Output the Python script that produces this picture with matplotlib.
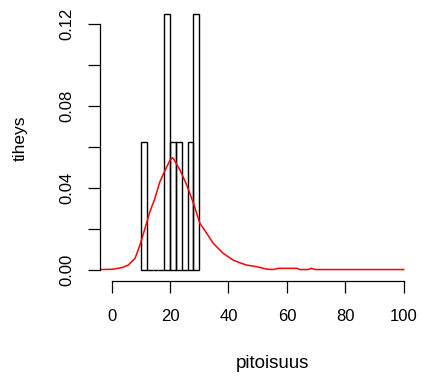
import numpy as np
import matplotlib
matplotlib.use("Agg")
import matplotlib.pyplot as plt

plt.rcParams['font.family'] = ['Liberation Sans', 'DejaVu Sans']

# histogram (density scale), bin width 2
bin_left = [10, 12, 14, 16, 18, 20, 22, 24, 26, 28]
bin_height = [0.0625, 0, 0, 0, 0.125, 0.0625, 0.0625, 0, 0.0625, 0.125]

# density estimate
dens_x = [-4, 0, 3.4, 5.7, 8.0, 9.7, 11.4, 13.1, 14.8, 16.5, 18.3, 20.0, 20.8,
          21.1, 23.4, 25.7, 28.0, 30.2, 32.5, 34.8, 38.2, 41.6, 43.9, 46.2,
          49.6, 53.1, 55.3, 57.1, 63.4, 64.5, 67.3, 68.4, 69.6, 100]
dens_y = [0, 0.0001, 0.0009, 0.0022, 0.0055, 0.012, 0.0201, 0.0283, 0.0348,
          0.0429, 0.0486, 0.0535, 0.0546, 0.0543, 0.0486, 0.0413, 0.0324,
          0.0226, 0.0178, 0.0128, 0.0079, 0.0046, 0.0033, 0.0022, 0.0014,
          0.0002, 0, 0.0006, 0.0006, 0, 0, 0.0006, 0, 0]

xticks = [0, 20, 40, 60, 80, 100]
yticks = [0.00, 0.02, 0.04, 0.06, 0.08, 0.10, 0.12]
ylabels = ["0.00", "", "0.04", "", "0.08", "", "0.12"]

W, H = 424, 377
fig = plt.figure(figsize=(W / 100, H / 100), dpi=100)
ax = fig.add_axes([100 / W, (H - 281) / H, 315.4 / W, (281 - 3.5) / H])

ax.bar(bin_left, bin_height, width=2, align='edge', fill=False,
       edgecolor='black', linewidth=1.0)
ax.plot(dens_x, dens_y, color='red', linewidth=1.1)

ax.set_xlim(-4, 104)
ax.set_ylim(-0.0056, 0.13)
for s in ['top', 'right']:
    ax.spines[s].set_visible(False)
ax.spines['left'].set_bounds(0, 0.12)
ax.spines['bottom'].set_bounds(0, 100)
ax.spines['left'].set_linewidth(0.9)
ax.spines['bottom'].set_linewidth(0.9)

ax.set_xticks(xticks)
ax.set_xticklabels([str(t) for t in xticks])
ax.set_yticks(yticks)
ax.set_yticklabels(ylabels, rotation=90, va='center')
ax.tick_params(direction='out', length=8.5, width=0.9, labelsize=12)
ax.tick_params(axis='x', pad=12)
ax.tick_params(axis='y', pad=10)

fig.text(272 / W, 1 - 364 / H, "pitoisuus", ha='center', va='center', fontsize=13.5)
fig.text(20 / W, 1 - 138 / H, "tiheys", ha='center', va='center', rotation=90, fontsize=12.5)

fig.savefig("out.png", dpi=100)
